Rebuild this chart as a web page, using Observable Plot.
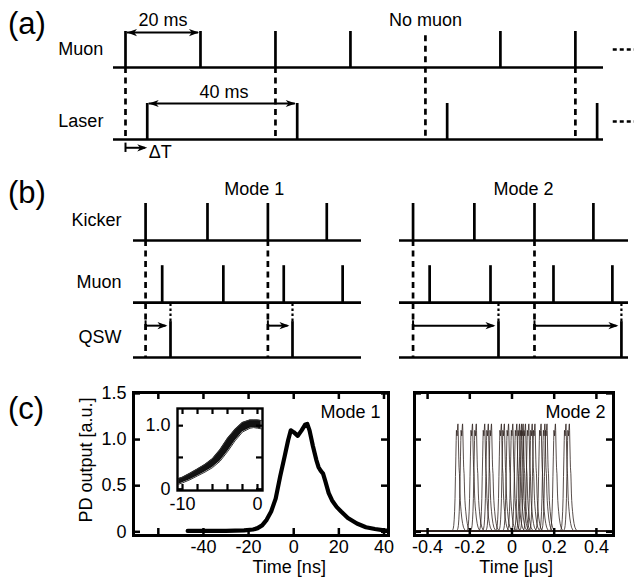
<!DOCTYPE html>
<html>
<head>
<meta charset="utf-8">
<script src="https://cdn.jsdelivr.net/npm/d3@7"></script>
<script src="https://cdn.jsdelivr.net/npm/@observablehq/plot@0.6"></script>
<style>
  body { margin: 0; background: #fff; }
  #fig { position: relative; width: 634px; height: 578px; overflow: hidden; background: #fff;
         font-family: "Liberation Sans", Arial, Helvetica, sans-serif; color: #000; }
  #fig svg { position: absolute; left: 0; top: 0; }
  .plabel { position: absolute; left: 8px; font-size: 31px; line-height: 31px; }
</style>
</head>
<body>
<div id="fig">
  <div class="plabel" style="top:8px">(a)</div>
  <div class="plabel" style="top:177px">(b)</div>
  <div class="plabel" style="top:393px">(c)</div>
</div>
<script>
// ---------------- DATA ----------------
// Panel (a): pulse times in ms
const aMuon = [0, 20, 40, 60, 100, 120];
const aNoMuon = [80];
const aSync = [0, 40, 120];
const aLaser = [5.8, 45.8, 85.8, 125.8];
const aDeltaT = 5.8;
const aLanes = [{name: "Muon", base: 0}, {name: "Laser", base: -2}];

// Panel (b): pulse times (arbitrary ms units, kicker period ~40)
const b1Kicker = [0, 41, 81, 120];
const b1Muon = [11, 51.5, 91.5, 130.5];
const b1QSW = [16.5, 97.3];
const b1Sync = [0, 81];
const b2Kicker = [0, 40.7, 80.6, 119.7];
const b2Muon = [11, 51.4, 93.2, 132.3];
const b2QSW = [56.7, 138.3];
const b2Sync = [0, 80.6];
const bLanes = [{name: "Kicker", base: 0}, {name: "Muon", base: -1.68}, {name: "QSW", base: -3.16}];

// Panel (c): Mode 1 pulse (time ns, PD output a.u.)
const pulseT = [-47, -40, -30, -22, -18, -16, -14, -12, -10, -8, -6, -4, -2.5, -1.3, 0, 1.8, 3.5, 5, 6, 7, 8.5, 10, 11, 12, 13, 14, 15.5, 17, 19, 21, 24, 28, 32, 36, 40, 41.5];
const pulseV = [0.01, 0.01, 0.01, 0.015, 0.025, 0.04, 0.07, 0.13, 0.22, 0.36, 0.6, 0.82, 0.99, 1.10, 1.08, 1.04, 1.10, 1.16, 1.17, 1.10, 0.93, 0.78, 0.70, 0.66, 0.63, 0.55, 0.42, 0.34, 0.27, 0.22, 0.15, 0.09, 0.05, 0.03, 0.015, 0.012];
// inset: rising edge band
const insetT  = [-10.5, -10, -9, -8, -7, -6, -5, -4, -3, -2, -1, -0.5, 0, 0.5];
const insetLo = [0.08, 0.10, 0.15, 0.21, 0.27, 0.34, 0.44, 0.59, 0.76, 0.90, 0.96, 0.97, 0.96, 0.95];
const insetHi = [0.17, 0.19, 0.25, 0.32, 0.39, 0.48, 0.62, 0.80, 0.94, 1.05, 1.09, 1.09, 1.09, 1.08];
// Mode 2: trigger offsets of individual pulses (µs)
const mode2Offsets = [-0.262, -0.240, -0.193, -0.175, -0.135, -0.118, -0.103, -0.056, -0.042, -0.022, -0.002, 0.017, 0.030, 0.040, 0.047, 0.058, 0.074, 0.090, 0.103, 0.132, 0.150, 0.160, 0.200, 0.250, 0.266];

// ticks
const c1XTicks = [-60, -40, -20, 0, 20, 40];
const c1XLabels = [-40, -20, 0, 20, 40];
const cYTicks = [0, 0.5, 1, 1.5];
const insetXTicks = [-10, -8, -6, -4, -2, 0];
const insetXLabels = [-10, 0];
const insetYTicks = [0, 0.5, 1];
const insetYLabels = [0, 1];
const c2XTicks = [-0.4, -0.2, 0, 0.2, 0.4];

// ---------------- HELPERS ----------------
const FONT = '"Liberation Sans", Arial, Helvetica, sans-serif';
const style = {background: "none", fontFamily: FONT, fontSize: "18px", color: "black", overflow: "visible"};
const SW = 2.7;
const DASH = "6,4.5";
const headRight = {draw(c) { c.moveTo(0, 0); c.lineTo(-10, -3.6); c.lineTo(-7.2, 0); c.lineTo(-10, 3.6); c.closePath(); }};
const headLeft  = {draw(c) { c.moveTo(0, 0); c.lineTo(10, -3.6); c.lineTo(7.2, 0); c.lineTo(10, 3.6); c.closePath(); }};
const fig = document.getElementById("fig");
const add = (p) => fig.appendChild(p);
const numFmt = d => d === 0 ? "0" : d.toFixed(1);

function boxTicks(xt, yt, fw, fh, len, sw) {
  return [
    Plot.ruleX(xt, {x: d => d, insetTop: fh - len, strokeWidth: sw}),
    Plot.ruleX(xt, {x: d => d, insetBottom: fh - len, strokeWidth: sw}),
    Plot.ruleY(yt, {y: d => d, insetRight: fw - len, strokeWidth: sw}),
    Plot.ruleY(yt, {y: d => d, insetLeft: fw - len, strokeWidth: sw})
  ];
}

// ---------------- PANEL (a) ----------------
add(Plot.plot({
  width: 634, height: 578, style, axis: null,
  x: {domain: [-3.2, 127.5], range: [113, 603]},
  y: {domain: [-2, 1], range: [139, 31]},
  marks: [
    Plot.ruleY(aLanes, {y: "base", x1: -3.2, x2: 127.5, strokeWidth: SW}),
    Plot.text(aLanes, {x: -5.9, y: d => d.base + 0.5, text: "name", textAnchor: "end"}),
    Plot.ruleX(aMuon, {x: d => d, y1: 0, y2: 1, strokeWidth: SW}),
    Plot.ruleX(aLaser, {x: d => d, y1: -2, y2: -1, strokeWidth: SW}),
    Plot.ruleX(aSync, {x: d => d, y1: 0, y2: -2, strokeWidth: SW, strokeDasharray: DASH}),
    Plot.ruleX(aNoMuon, {x: d => d, y1: 0.88, y2: -2, strokeWidth: SW, strokeDasharray: DASH}),
    Plot.text(aNoMuon, {x: d => d, y: 1.3, text: () => "No muon"}),
    // 20 ms arrow
    Plot.ruleY([0.97], {y: d => d, x1: aMuon[0] + 0.5, x2: aMuon[1] - 0.5, strokeWidth: 2}),
    Plot.dot([aMuon[0] + 0.4], {x: d => d, y: 0.97, symbol: headLeft, fill: "black", stroke: "none"}),
    Plot.dot([aMuon[1] - 0.4], {x: d => d, y: 0.97, symbol: headRight, fill: "black", stroke: "none"}),
    Plot.text(["20 ms"], {x: (aMuon[0] + aMuon[1]) / 2, y: 1.3}),
    // 40 ms arrow
    Plot.ruleY([-1.0], {y: d => d, x1: aLaser[0] + 0.5, x2: aLaser[1] - 0.5, strokeWidth: 2}),
    Plot.dot([aLaser[0] + 0.4], {x: d => d, y: -1.0, symbol: headLeft, fill: "black", stroke: "none"}),
    Plot.dot([aLaser[1] - 0.4], {x: d => d, y: -1.0, symbol: headRight, fill: "black", stroke: "none"}),
    Plot.text(["40 ms"], {x: (aLaser[0] + aLaser[1]) / 2 + 0.5, y: -0.7}),
    // delta T
    Plot.ruleX([0], {x: d => d, y1: -2.1, y2: -2.36, strokeWidth: 2}),
    Plot.ruleY([-2.23], {y: d => d, x1: 0, x2: aDeltaT - 0.5, strokeWidth: 2}),
    Plot.dot([aDeltaT], {x: d => d, y: -2.23, symbol: headRight, fill: "black", stroke: "none"}),
    Plot.text(["ΔT"], {x: aDeltaT + 0.4, y: -2.36, textAnchor: "start"}),
    // continuation dots
    Plot.ruleY([0.5, -1.5], {y: d => d, x1: 130.1, x2: 136, strokeWidth: 2.4, strokeDasharray: "4,3"})
  ]
}));

// ---------------- PANEL (b) ----------------
function timingB(cfg) {
  const arrows = cfg.sync.map((s, i) => ({s, q: cfg.qsw[i]}));
  return Plot.plot({
    width: 634, height: 578, style, axis: null,
    x: {domain: cfg.domain, range: cfg.range},
    y: {domain: [-3.16, 1], range: [357, 203]},
    marks: [
      Plot.ruleY(bLanes, {y: "base", x1: cfg.domain[0], x2: cfg.domain[1], strokeWidth: SW}),
      cfg.labels ? Plot.text(bLanes, {x: -16, y: d => d.base + 0.55, text: "name", textAnchor: "end"}) : null,
      Plot.ruleX(cfg.kicker, {x: d => d, y1: 0, y2: 1, strokeWidth: SW}),
      Plot.ruleX(cfg.muon, {x: d => d, y1: -1.68, y2: -0.68, strokeWidth: SW}),
      Plot.ruleX(cfg.qsw, {x: d => d, y1: -3.16, y2: -2.19, strokeWidth: SW}),
      Plot.ruleX(cfg.qsw, {x: d => d, y1: -2.19, y2: -1.68, strokeWidth: 2.2, strokeDasharray: "2.5,2.5"}),
      Plot.ruleX(cfg.sync, {x: d => d, y1: 0, y2: -3.16, strokeWidth: SW, strokeDasharray: DASH}),
      Plot.ruleX(cfg.sync, {x: d => d, y1: -2.17, y2: -2.43, strokeWidth: 2}),
      Plot.ruleY(arrows, {y: -2.3, x1: "s", x2: d => d.q - 3, strokeWidth: 2}),
      Plot.dot(arrows, {x: d => d.q - 2, y: -2.3, symbol: headRight, fill: "black", stroke: "none"}),
      Plot.text([cfg.title], {x: cfg.titleX, y: 1.38})
    ]
  });
}
add(timingB({domain: [-8, 143], range: [133, 361], kicker: b1Kicker, muon: b1Muon, qsw: b1QSW, sync: b1Sync, title: "Mode 1", titleX: 72, labels: true}));
add(timingB({domain: [-9, 143], range: [399, 628], kicker: b2Kicker, muon: b2Muon, qsw: b2QSW, sync: b2Sync, title: "Mode 2", titleX: 73.3, labels: false}));

// ---------------- PANEL (c) left: Mode 1 ----------------
const pulse = pulseT.map((t, i) => ({t, v: pulseV[i]}));
add(Plot.plot({
  width: 634, height: 578, style,
  marginLeft: 133, marginRight: 246, marginTop: 392, marginBottom: 43,
  x: {domain: [-71, 42], ticks: c1XLabels, tickSize: 0, tickPadding: 5, tickFormat: d => String(d), label: null},
  y: {domain: [-0.04, 1.51], ticks: cYTicks, tickSize: 0, tickPadding: 7, tickFormat: numFmt, label: null},
  marks: [
    Plot.line(pulse, {x: "t", y: "v", strokeWidth: 4.2, strokeLinejoin: "round", stroke: "black"}),
    ...boxTicks(c1XTicks, cYTicks, 255, 143, 7, 2.5),
    Plot.frame({strokeWidth: 3}),
    Plot.text(["Mode 1"], {frameAnchor: "top-right", dx: -8, dy: 20, textAnchor: "end", lineAnchor: "middle"}),
    Plot.text(["Time [ns]"], {x: -2, frameAnchor: "bottom", dy: 32, lineAnchor: "middle", textAnchor: "middle"}),
    Plot.text(["PD output [a.u.]"], {frameAnchor: "left", dx: -47, dy: -4, rotate: -90, textAnchor: "middle", lineAnchor: "middle"})
  ]
}));

// inset
const inset = insetT.map((t, i) => ({t, lo: insetLo[i], hi: insetHi[i]}));
add(Plot.plot({
  width: 634, height: 578, style,
  marginLeft: 177, marginRight: 372, marginTop: 408, marginBottom: 88,
  x: {domain: [-10.67, 0.67], ticks: insetXLabels, tickSize: 0, tickPadding: 7, tickFormat: d => String(d), label: null},
  y: {domain: [-0.02, 1.27], ticks: insetYLabels, tickSize: 0, tickPadding: 7, tickFormat: numFmt, label: null},
  marks: [
    Plot.frame({fill: "white"}),
    Plot.areaY(inset, {x: "t", y1: "lo", y2: "hi", fill: "#111"}),
    Plot.line(inset, {x: "t", y: "lo", stroke: "#333", strokeWidth: 1}),
    Plot.line(inset, {x: "t", y: "hi", stroke: "#333", strokeWidth: 1}),
    ...boxTicks(insetXTicks, insetYTicks, 85, 82, 6, 2.2),
    Plot.frame({strokeWidth: 2.4})
  ]
}));

// ---------------- PANEL (c) right: Mode 2 ----------------
const mode2 = mode2Offsets.flatMap((off, k) => [
  {t: -0.458, v: 0.012, k},
  ...pulseT.map((t, i) => ({t: off + t / 1000, v: pulseV[i], k})),
  {t: 0.477, v: 0.012, k}
]);
add(Plot.plot({
  width: 634, height: 578, style,
  marginLeft: 414, marginRight: 21, marginTop: 392, marginBottom: 43,
  x: {domain: [-0.462, 0.481], ticks: c2XTicks, tickSize: 0, tickPadding: 5, tickFormat: numFmt, label: null},
  y: {domain: [-0.04, 1.51], axis: null},
  marks: [
    Plot.line(mode2, {x: "t", y: "v", z: "k", stroke: "#2e221e", strokeWidth: 0.8}),
    ...boxTicks(c2XTicks, cYTicks, 199, 143, 7, 2.5),
    Plot.frame({strokeWidth: 3}),
    Plot.text(["Mode 2"], {frameAnchor: "top-right", dx: -8, dy: 20, textAnchor: "end", lineAnchor: "middle"}),
    Plot.text(["Time [μs]"], {x: 0.02, frameAnchor: "bottom", dy: 32, lineAnchor: "middle", textAnchor: "middle"})
  ]
}));
</script>
</body>
</html>
